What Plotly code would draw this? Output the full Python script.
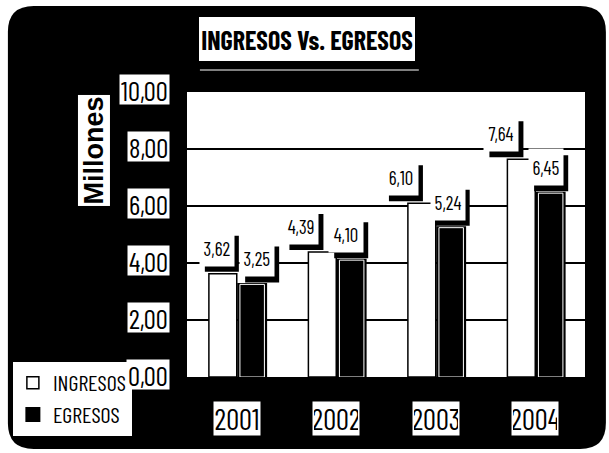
import plotly.graph_objects as go

# ---- data -------------------------------------------------------------
years = ["2001", "2002", "2003", "2004"]
ingresos = [3.62, 4.39, 6.10, 7.64]
egresos = [3.25, 4.10, 5.24, 6.45]
y_ticks = [0, 2, 4, 6, 8, 10]

# ---- layout constants -------------------------------------------------
W, H = 609, 453
ML, MR, MT, MB = 185, 24, 92, 76
PW, PH = W - ML - MR, H - MT - MB
NARROW = "Barlow Condensed, Archivo Narrow, DejaVu Sans Condensed, sans-serif"
BOLD = "Liberation Sans, Arial, sans-serif"

# bar geometry (category units)
ING_OFF, ING_W = -0.28, 0.28
EGR_OFF, EGR_W = 0.02, 0.27
# horizontal position of the value boxes relative to each category centre
ING_LBL_DX = [-0.20, -0.35, -0.35, -0.34]
EGR_LBL_DX = [0.205, 0.10, 0.12, 0.11]
BOX_W, BOX_H = 34, 36      # value box size, px
BOX_LIFT = 7               # gap between bar top and box bottom, px
SHADOW = 5                 # drop-shadow offset, px


def px(x):
    return (x - ML) / PW


def py(y):
    return (H - MB - y) / PH


def fmt(v):
    return f"{v:.2f}".replace(".", ",")


xs = list(range(len(years)))

fig = go.Figure()
fig.add_trace(go.Bar(
    x=xs, y=ingresos, name="INGRESOS", offset=ING_OFF, width=ING_W,
    marker=dict(color="white", line=dict(color="black", width=1.5)),
    legendgroup="a",
))
fig.add_trace(go.Bar(
    x=xs, y=egresos, name="EGRESOS", offset=EGR_OFF, width=EGR_W,
    marker=dict(color="black", line=dict(color="black", width=3)),
    legendgroup="b",
))
# thin white inset line inside the dark bars
fig.add_trace(go.Bar(
    x=xs, y=egresos, offset=EGR_OFF + 0.012, width=EGR_W - 0.024,
    marker=dict(color="black", line=dict(color="white", width=1)),
    showlegend=False, hoverinfo="skip",
))

ann = []
shapes = []

# rounded dark panel behind everything
x0, x1 = px(5), px(606)
y0, y1 = py(449), py(6)
rx, ry = 26 / PW, 26 / PH
panel = (
    f"M {x0 + rx},{y1} L {x1 - rx},{y1} Q {x1},{y1} {x1},{y1 - ry} "
    f"L {x1},{y0 + ry} Q {x1},{y0} {x1 - rx},{y0} "
    f"L {x0 + rx},{y0} Q {x0},{y0} {x0},{y0 + ry} "
    f"L {x0},{y1 - ry} Q {x0},{y1} {x0 + rx},{y1} Z"
)
shapes += [
    dict(type="path", path=panel, xref="paper", yref="paper",
         fillcolor="black", line=dict(width=0), layer="below"),
    dict(type="rect", x0=0, x1=1, y0=0, y1=1, xref="paper", yref="paper",
         fillcolor="white", line=dict(width=0), layer="below"),
    # thin light rule under the title box
    dict(type="line", x0=px(198), x1=px(418), y0=py(70), y1=py(70),
         xref="paper", yref="paper", line=dict(color="white", width=1),
         layer="below"),
]

# value boxes: dark drop shadow (shape) + white text box (annotation)
for series, dxs in ((ingresos, ING_LBL_DX), (egresos, EGR_LBL_DX)):
    for i, v in enumerate(series):
        cx = i + dxs[i]
        shapes.append(dict(
            type="rect", xref="x", yref="y",
            xsizemode="pixel", ysizemode="pixel", xanchor=cx, yanchor=v,
            x0=-BOX_W / 2 + SHADOW, x1=BOX_W / 2 + SHADOW,
            y0=BOX_LIFT - SHADOW, y1=BOX_LIFT - SHADOW + BOX_H,
            fillcolor="black", line=dict(width=0), layer="above",
        ))
        ann.append(dict(
            x=cx, y=v, xref="x", yref="y",
            xanchor="center", yanchor="bottom", yshift=BOX_LIFT,
            text=fmt(v), showarrow=False,
            font=dict(family=NARROW, size=19, color="black"),
            bgcolor="white", width=BOX_W, height=BOX_H, borderpad=0,
        ))

# y tick labels in white boxes
for t in y_ticks:
    ann.append(dict(
        x=px(168), y=t, xref="paper", yref="y", xanchor="right",
        yanchor="middle", yshift=3, text=fmt(t), showarrow=False,
        font=dict(family=NARROW, size=27, color="black"),
        bgcolor="white", borderpad=1, height=27,
    ))

# category labels in white boxes
for i, yr in enumerate(years):
    ann.append(dict(
        x=i, y=py(418), xref="x", yref="paper", xanchor="center",
        yanchor="middle", text=yr, showarrow=False,
        font=dict(family=NARROW, size=29, color="black"),
        bgcolor="white", borderpad=1, width=44, height=31,
    ))

# title box
ann.append(dict(
    x=px(305.5), y=py(39), xref="paper", yref="paper",
    xanchor="center", yanchor="middle",
    text="<b>INGRESOS Vs. EGRESOS</b>", showarrow=False,
    font=dict(family=NARROW, size=26, color="black"),
    bgcolor="white", width=216, height=44, borderpad=0,
    bordercolor="black", borderwidth=1,
))

# axis title box
ann.append(dict(
    x=px(91), y=py(150), xref="paper", yref="paper",
    xanchor="center", yanchor="middle", textangle=-90,
    text="<b>Millones</b>", showarrow=False,
    font=dict(family=BOLD, size=27, color="black"),
    bgcolor="white", width=110, height=31, borderpad=0,
))

fig.update_layout(
    width=W, height=H,
    margin=dict(l=ML, r=MR, t=MT, b=MB, pad=0),
    paper_bgcolor="white", plot_bgcolor="white",
    barmode="overlay",
    showlegend=True,
    legend=dict(
        x=px(9), y=py(361), xanchor="left", yanchor="top",
        xref="paper", yref="paper",
        bgcolor="white", bordercolor="black", borderwidth=1,
        font=dict(family=NARROW, size=22, color="black"),
        tracegroupgap=24, itemwidth=30, traceorder="normal",
    ),
    xaxis=dict(range=[-0.5, 3.5], showticklabels=False, showgrid=False,
               zeroline=False, showline=False, ticks=""),
    yaxis=dict(range=[0, 10], tickvals=y_ticks, showticklabels=False,
               showgrid=True, gridcolor="black", gridwidth=1.5,
               zeroline=False, showline=False, ticks=""),
    annotations=ann,
    shapes=shapes,
)

fig.write_html("out.html")
